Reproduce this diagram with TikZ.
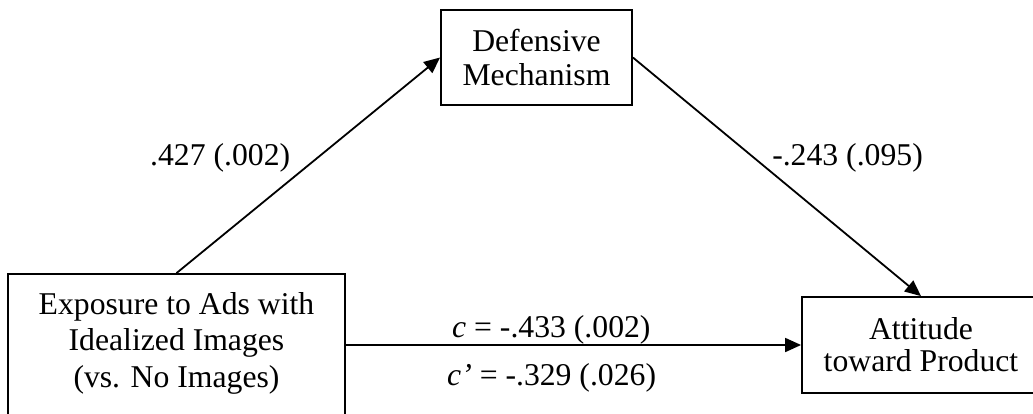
\documentclass[tikz,border=0pt]{standalone}
\usepackage{fontspec}
\setmainfont{Liberation Serif}
\usetikzlibrary{arrows.meta}
\tikzset{
  box/.style={draw, line width=1.8pt, inner sep=0pt, align=center},
  lbl/.style={inner sep=0pt, font=\fontsize{31.7}{36}\selectfont},
  arr/.style={line width=1.8pt, -{Triangle[length=16pt,width=14pt]}}
}
\begin{document}
\begin{tikzpicture}[x=1pt,y=-1pt]
\useasboundingbox (0,0) rectangle (1033,414);
\clip (0,0) rectangle (1033,414);
\node[box, minimum width=191pt, minimum height=95pt, font=\fontsize{31.7}{34}\selectfont]
  (med) at (536.5,57.5) {Defensive\\Mechanism};
\node[box, minimum width=337pt, minimum height=146pt, font=\fontsize{31.7}{36.5}\selectfont]
  (src) at (176.5,347) {Exposure to Ads with\\Idealized Images\\(vs. No Images)\rule[-14.7pt]{0pt}{14.7pt}};
\node[box, minimum width=238pt, minimum height=96pt, font=\fontsize{31.7}{32}\selectfont]
  (out) at (921,345) {Attitude\\toward Product};
\draw[arr] (src.north) -- (med.west);
\draw[arr] (med.east) -- (out.north);
\draw[arr] (src.east |- out.west) -- (out.west);
\node[lbl, anchor=base west] (a) at (150,166) {.427 (.002)};
\node[lbl, anchor=base east] (b) at (923,166) {-.243 (.095)};
\node[lbl, anchor=base west] (c) at (452,337) {\textit{c} = -.433 (.002)};
\node[lbl, anchor=base west] (cp) at (447,385) {\textit{c’} = -.329 (.026)};
\end{tikzpicture}
\end{document}
